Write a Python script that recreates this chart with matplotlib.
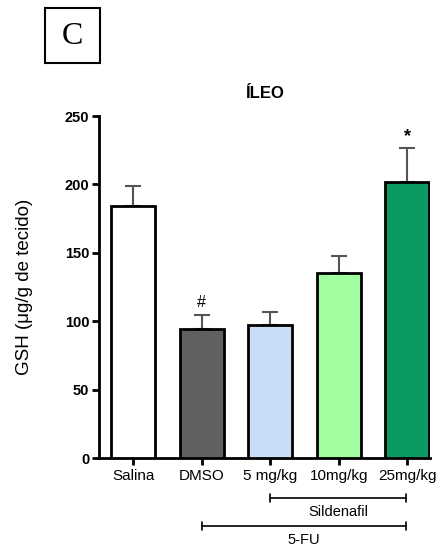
import matplotlib.pyplot as plt
import matplotlib.transforms as mtransforms
from matplotlib.patches import Rectangle

# data
groups = ["Salina", "DMSO", "5 mg/kg", "10mg/kg", "25mg/kg"]
means = [184, 94.5, 97.5, 135, 202]
sem = [15, 10, 9, 13, 24.5]
marks = ["", "#", "", "", "*"]
colors = ["#ffffff", "#606060", "#c9ddf6", "#a1fea0", "#0c9a63"]

plt.rcParams["font.family"] = ["Liberation Sans", "DejaVu Sans"]

fig = plt.figure(figsize=(4.39, 5.46), dpi=100)
ax = fig.add_axes([99 / 439, 88 / 546, 331 / 439, 342 / 546])

x = list(range(len(groups)))
ax.bar(x, means, width=0.64, color=colors, edgecolor="black", linewidth=2, zorder=3)
ax.errorbar(x, means, yerr=[[0] * len(sem), sem], fmt="none", ecolor="#555555",
            elinewidth=1.5, capsize=6, capthick=1.5, zorder=2)

for xi, m, s, t in zip(x, means, sem, marks):
    if t == "*":
        ax.text(xi, m + s + 2, t, ha="center", va="bottom", fontsize=13, fontweight="bold")
    elif t:
        ax.text(xi, m + s + 4, t, ha="center", va="bottom", fontsize=11.5)

ax.set_xlim(-0.5, 4.33)
ax.set_ylim(0, 250)
ax.set_yticks([0, 50, 100, 150, 200, 250])
ax.set_xticks(x)
ax.set_xticklabels(groups, fontsize=11)
for lab in ax.get_yticklabels():
    lab.set_fontweight("bold")
    lab.set_fontsize(10.5)
ax.tick_params(axis="both", width=2, length=5)
ax.tick_params(axis="y", pad=2)
ax.tick_params(axis="x", pad=3)
for side in ["top", "right"]:
    ax.spines[side].set_visible(False)
for side in ["left", "bottom"]:
    ax.spines[side].set_linewidth(2)

ax.set_ylabel("GSH (μg/g de tecido)", fontsize=13.5, labelpad=23)
ax.set_title("ÍLEO", fontsize=12, fontweight="bold", pad=13)

# group bars under the axis
trans = mtransforms.blended_transform_factory(ax.transData, fig.transFigure)


def bracket(x0, x1, y, label):
    ax.annotate("", xy=(x0, y), xytext=(x1, y), xycoords=trans, textcoords=trans,
                arrowprops=dict(arrowstyle="|-|", lw=1.2, mutation_scale=3, shrinkA=0, shrinkB=0))
    ax.text((x0 + x1) / 2, y - 0.025, label, ha="center", va="center", fontsize=10.5,
            transform=trans)


bracket(2.0, 3.98, 1 - 498 / 546, "Sildenafil")
bracket(1.0, 3.98, 1 - 526 / 546, "5-FU")

# panel letter
fig.patches.append(Rectangle((45 / 439, 1 - 63 / 546), 55 / 439, 55 / 546,
                             transform=fig.transFigure, fill=False, edgecolor="black", lw=1.5))
fig.text(72 / 439, 1 - 36 / 546, "C", ha="center", va="center", fontsize=23,
         family="Liberation Serif")

fig.savefig("out.png", dpi=100)
